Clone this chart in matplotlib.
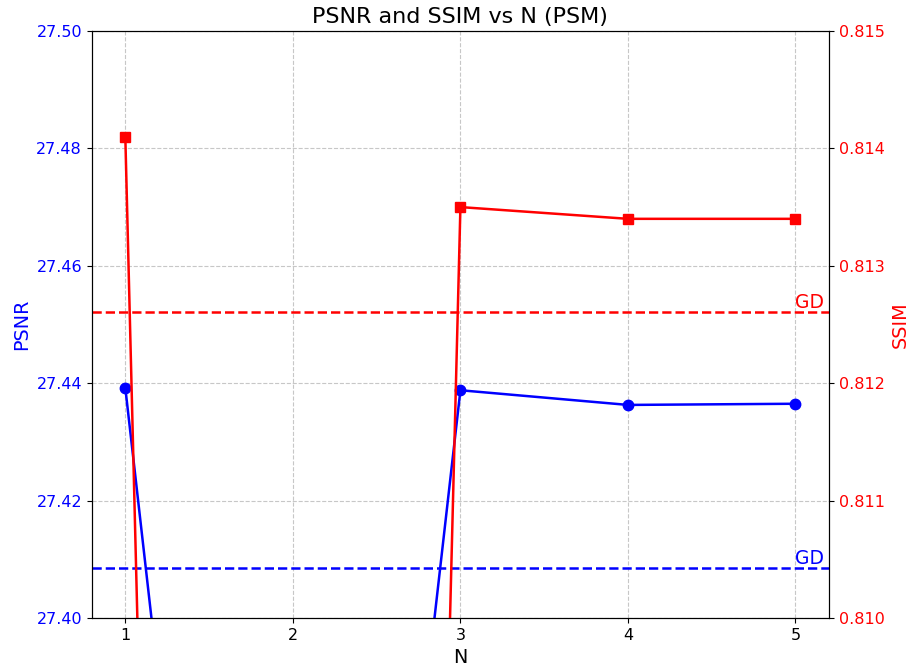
import matplotlib
matplotlib.use("Agg")
import matplotlib.pyplot as plt

# values
N = [1, 2, 3, 4, 5]
psnr = [27.4392, 27.188, 27.4388, 27.4363, 27.4365]
ssim = [0.8141, 0.757, 0.8135, 0.8134, 0.8134]
gd_psnr = 27.4085
gd_ssim = 0.81261

fig, ax1 = plt.subplots(figsize=(9.09, 6.69), dpi=100)
fig.subplots_adjust(left=0.101, right=0.912, top=0.9537, bottom=0.0762)

ax1.plot(N, psnr, "o-", color="blue", linewidth=1.8, markersize=7.5)
ax1.axhline(gd_psnr, color="blue", linestyle="--", linewidth=1.8)
ax1.text(5.0, gd_psnr, "GD", color="blue", fontsize=13.5, ha="left", va="bottom")
ax1.set_ylim(27.40, 27.50)
ax1.set_xlabel("N", fontsize=13.8)
ax1.set_ylabel("PSNR", color="blue", fontsize=13.8)
ax1.tick_params(axis="y", labelcolor="blue", labelsize=11.5)
ax1.tick_params(axis="x", labelsize=11.5)
ax1.set_xticks(N)
ax1.grid(True, linestyle="--", alpha=0.7)

ax2 = ax1.twinx()
ax2.plot(N, ssim, "s-", color="red", linewidth=1.8, markersize=7.5)
ax2.axhline(gd_ssim, color="red", linestyle="--", linewidth=1.8)
ax2.text(5.0, gd_ssim, "GD", color="red", fontsize=13.5, ha="left", va="bottom")
ax2.set_ylim(0.810, 0.815)
ax2.set_ylabel("SSIM", color="red", fontsize=13.8)
ax2.tick_params(axis="y", labelcolor="red", labelsize=11.5)

ax1.set_title("PSNR and SSIM vs N (PSM)", fontsize=16)

fig.savefig("out.png")
